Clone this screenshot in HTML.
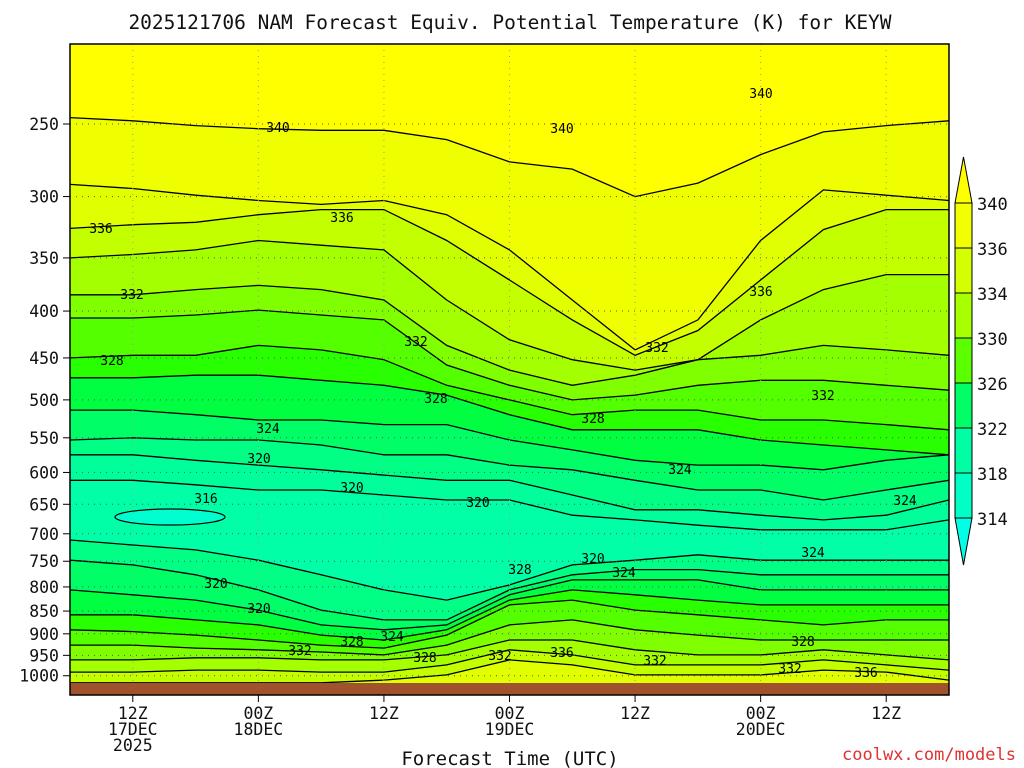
<!DOCTYPE html>
<html><head><meta charset="utf-8"><style>
body{margin:0;background:#fff;}
svg{display:block;font-family:"DejaVu Sans Mono","Liberation Mono",monospace;}
</style></head><body>
<svg id="chart" width="1024" height="768" viewBox="0 0 1024 768" xmlns="http://www.w3.org/2000/svg">
<defs><clipPath id="pc"><rect x="70" y="44" width="879" height="651"/></clipPath></defs>
<text x="510" y="29" font-size="19.5" text-anchor="middle" fill="#111">2025121706 NAM Forecast Equiv. Potential Temperature (K) for KEYW</text>
<g id="plot" clip-path="url(#pc)"></g>
<g id="axes"></g>
<text x="510" y="765" font-size="19" text-anchor="middle" fill="#111">Forecast Time (UTC)</text>
<text x="1016" y="760" font-size="17" text-anchor="end" fill="#e03030">coolwx.com/models</text>
</svg>
<script>
const times=[0,6,12,18,24,30,36,42,48,54,60,66,72,78,84];
const upperLevels=[318,320,322,324,326,328,330,332,334,336,338,340];
const up318=[612,612,619,627,627,635,643,643,668,676,685,693,693,693,676];
const up320=[574,574,582,589,596,604,612,612,635,659,659,668,676,668,643];
const up322=[553,550,553,553,560,574,574,589,596,612,627,627,643,627,612];
const up324=[513,513,519,526,526,532,532,553,567,582,589,589,596,582,574];
const up326=[473,473,470,470,476,482,494,519,539,539,539,553,560,567,574];
const up328=[450,447,447,436,441,452,482,500,519,513,513,526,526,532,539];
const up330=[407,407,404,399,404,409,458,482,500,494,482,476,476,482,488];
const up332=[384,384,379,375,379,389,436,464,482,470,452,447,436,441,447];
const up334=[350,347,343,335,339,343,389,430,452,464,452,409,379,365,365];
const up336=[325,322,320,314,310,310,335,370,409,447,420,370,326,310,310];
const up338=[291,294,299,303,306,303,314,343,389,441,409,335,295,299,303];
const up340=[246,248,251,253,254,254,260,275,280,300,290,270,255,251,248];
const upperLines=[up318,up320,up322,up324,up326,up328,up330,up332,up334,up336,up338,up340];
const lowerLevels=[320,322,324,326,328,330,332,334,336];
const lo320=[711,720,729,748,776,806,827,796,757,748,738,748,748,748,748];
const lo322=[748,757,776,806,848,869,869,806,776,766,766,776,776,776,776];
const lo324=[806,816,827,848,880,891,880,816,786,786,786,806,806,806,806];
const lo326=[858,858,869,880,903,914,891,827,806,816,827,837,837,837,837];
const lo328=[891,895,903,914,926,933,903,837,827,848,858,869,880,869,869];
const lo330=[926,926,933,937,942,949,926,880,869,891,903,914,914,914,914];
const lo332=[961,961,956,956,961,961,949,914,914,937,949,949,937,949,961];
const lo334=[991,991,986,986,991,991,973,937,949,973,973,973,961,973,986];
const lo336=[1018,1018,1018,1018,1018,1011,998,961,973,998,998,998,986,991,1011];
const lowerLines=[lo320,lo322,lo324,lo326,lo328,lo330,lo332,lo334,lo336];
const pTicks=[250,300,350,400,450,500,550,600,650,700,750,800,850,900,950,1000];
const tTickHours=[6,18,30,42,54,66,78];
const tTickLabels=[["12Z","17DEC","2025"],["00Z","18DEC"],["12Z"],["00Z","19DEC"],["12Z"],["00Z","20DEC"],["12Z"]];
const cbLevels=[340,336,334,330,326,322,318,314];
const cbColors=["#f2ff00","#d4ff00","#a8ff00","#5cff00","#00ff66","#00ffa4","#00ffc4"];

const NS="http://www.w3.org/2000/svg";
const X=t=>70+t*879/84;
const Y=p=>124+398*Math.log(p/250);
const bandColor={316:"#00ffa6",318:"#00ff9a",320:"#00ff84",322:"#00ff66",324:"#00ff40",326:"#28ff00",328:"#54ff00",330:"#80ff00",332:"#a4ff00",334:"#c4ff00",336:"#e0ff00",338:"#f0ff00",340:"#ffff00"};
function mk(tag,attrs,parent){const e=document.createElementNS(NS,tag);for(const k in attrs)e.setAttribute(k,attrs[k]);parent.appendChild(e);return e;}
function pts(arr){return arr.map((p,i)=>X(times[i]).toFixed(1)+","+Y(p).toFixed(1));}
const plot=document.getElementById('plot');
const bg=mk('rect',{x:70,y:44,width:879,height:651,fill:bandColor[316]},plot);


upperLevels.forEach((lv,i)=>{
  const P=pts(upperLines[i]);
  const poly=mk('polygon',{points:["70,40",...P,"949,40"].join(" "),fill:bandColor[lv]},plot);
  
  
});
lowerLevels.forEach((lv,i)=>{
  const P=pts(lowerLines[i]);
  const poly=mk('polygon',{points:["70,700",...P,"949,700"].join(" "),fill:bandColor[lv]},plot);
  
  
});
const blob=mk('ellipse',{cx:170,cy:517,rx:55,ry:8,fill:"#00ffd0",stroke:"#000","stroke-width":1.2},plot);


[...upperLines,...lowerLines].forEach((ln,i)=>{
  const l=mk('polyline',{points:pts(ln).join(" "),fill:"none",stroke:"#000","stroke-width":1.3},plot);
  
  
});
pTicks.forEach(p=>{const g=mk('line',{x1:70,x2:949,y1:Y(p),y2:Y(p),stroke:"#555","stroke-dasharray":"1 5"},plot);

});
tTickHours.forEach(h=>{const g=mk('line',{x1:X(h),x2:X(h),y1:44,y2:683,stroke:"#999","stroke-dasharray":"1 5"},plot);

});
const labelAt=[[278,127],[562,128],[761,93],[101,228],[342,217],[761,291],[132,294],[416,341],[657,347],[823,395],[112,360],[436,398],[593,418],[268,428],[680,469],[259,458],[206,498],[352,487],[478,502],[593,558],[624,572],[520,569],[813,552],[905,500],[216,583],[259,608],[352,641],[392,636],[300,650],[425,657],[500,655],[562,652],[655,660],[803,641],[790,668],[866,672]];
const labTxt=["340","340","340","336","336","336","332","332","332","332","328","328","328","324","324","320","316","320","320","320","324","328","324","324","320","320","328","324","332","328","332","336","332","328","332","336"];
labTxt.forEach((t,i)=>{const [x,y]=labelAt[i];
 const tx=mk('text',{x:x,y:y+5,"font-size":13,"text-anchor":"middle",fill:"#000"},plot);tx.textContent=t;
 
 });
mk('rect',{x:70,y:683,width:879,height:12,fill:"#a0522d"},plot);
const ax=document.getElementById('axes');
const frame=mk('rect',{x:70,y:44,width:879,height:651,fill:"none",stroke:"#000","stroke-width":1.5},ax);


pTicks.forEach(p=>{mk('line',{x1:63,x2:70,y1:Y(p),y2:Y(p),stroke:"#000"},ax);
 const t=mk('text',{x:59,y:Y(p)+6,"font-size":16.5,"text-anchor":"end",fill:"#111"},ax);t.textContent=p;
 
 });
tTickHours.forEach((h,i)=>{mk('line',{x1:X(h),x2:X(h),y1:695,y2:702,stroke:"#000"},ax);
 tTickLabels[i].forEach((s,j)=>{const t=mk('text',{x:X(h),y:719+j*16,"font-size":16.5,"text-anchor":"middle",fill:"#111"},ax);t.textContent=s;
 
 });});
const cbTop=203,cbStep=45,cx=955,cw=17;
const cb=mk('g',{},ax);


mk('polygon',{points:`${cx},${cbTop} ${cx+cw},${cbTop} ${cx+cw/2},157`,fill:"#ffff00",stroke:"#000"},cb);
cbColors.forEach((c,i)=>{mk('rect',{x:cx,y:cbTop+i*cbStep,width:cw,height:cbStep,fill:c,stroke:"#000"},cb);});
const yb=cbTop+cbColors.length*cbStep;
mk('polygon',{points:`${cx},${yb} ${cx+cw},${yb} ${cx+cw/2},565`,fill:"#00ffe4",stroke:"#000"},cb);
cbLevels.forEach((v,i)=>{const t=mk('text',{x:977,y:cbTop+i*cbStep+7,"font-size":17,fill:"#111"},cb);t.textContent=v;
 
 });
</script>
</body></html>
